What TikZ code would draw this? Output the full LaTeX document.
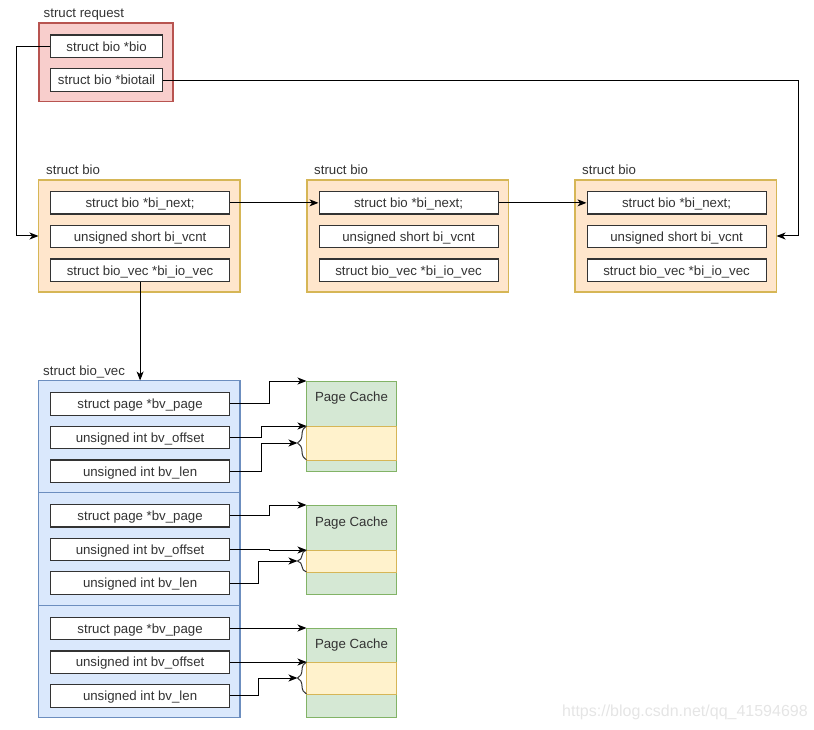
\documentclass[tikz,border=0pt]{standalone}
\usepackage{fontspec}
\setmainfont{Liberation Sans}
\usetikzlibrary{positioning}
\usetikzlibrary{arrows.meta}
\usetikzlibrary{calc}
\usetikzlibrary{decorations.pathreplacing}

\definecolor{reqfill}{HTML}{F8CECC}
\definecolor{reqline}{HTML}{B85450}
\definecolor{biofill}{HTML}{FFE6CC}
\definecolor{bioline}{HTML}{D6B656}
\definecolor{vecfill}{HTML}{DAE8FC}
\definecolor{vecline}{HTML}{6C8EBF}
\definecolor{pagefill}{HTML}{D5E8D4}
\definecolor{pageline}{HTML}{82B366}
\definecolor{datafill}{HTML}{FFF2CC}
\definecolor{dataline}{HTML}{D6B656}
\definecolor{textgray}{HTML}{333333}

\tikzset{
  field/.style={draw=textgray, line width=1.2pt, fill=white, minimum width=179pt, minimum height=22.5pt, inner sep=0pt, text height=9.6pt, text depth=0pt, text=textgray},
  structbox/.style={line width=1.2pt, minimum width=201.5pt, minimum height=112pt, inner sep=0pt, outer sep=0pt, anchor=north west},
  structname/.style={anchor=base west, inner sep=0pt, text=textgray},
  pagetitle/.style={inner sep=0pt, text height=9.6pt, text depth=0pt, text=textgray},
  pagedata/.style={draw=dataline, fill=datafill, line width=1pt, minimum width=90pt, inner sep=0pt, outer sep=0pt},
  pagebrace/.style={decorate, decoration={brace, amplitude=9pt}, line width=1pt, draw=textgray},
  ptr/.style={line width=1pt, -{Stealth[length=9pt, width=7pt, inset=2.5pt]}},
}

\begin{document}
\begin{tikzpicture}[x=1pt, y=-1pt, node distance=10pt, font=\fontsize{13.25}{15}\selectfont]
\useasboundingbox (0,0) rectangle (814,730);

% request
\node[structbox, draw=reqline, fill=reqfill, minimum width=134pt, minimum height=78.5pt] (req) at (39,23) {};
\node[structname] (reqname) at (43.5,17.5) {struct request};
\node[field, minimum width=112pt, below right=11.5pt and 11pt of req.north west] (reqbio) {struct bio *bio};
\node[field, minimum width=112pt, below=of reqbio] (reqtail) {struct bio *biotail};

% bio chain
\node[structbox, draw=bioline, fill=biofill] (bio1) at (38.5,180) {};
\node[structname] (bioname1) at (46,174.5) {struct bio};
\node[field, below right=11pt and 11.5pt of bio1.north west] (next1) {struct bio *bi\_next;};
\node[field, below=of next1] (vcnt1) {unsigned short bi\_vcnt};
\node[field, below=of vcnt1] (vec1) {struct bio\_vec *bi\_io\_vec};

\node[structbox, draw=bioline, fill=biofill] (bio2) at (307,180) {};
\node[structname] (bioname2) at (314,174.5) {struct bio};
\node[field, below right=11pt and 11.5pt of bio2.north west] (next2) {struct bio *bi\_next;};
\node[field, below=of next2] (vcnt2) {unsigned short bi\_vcnt};
\node[field, below=of vcnt2] (vec2) {struct bio\_vec *bi\_io\_vec};

\node[structbox, draw=bioline, fill=biofill] (bio3) at (575,180) {};
\node[structname] (bioname3) at (582,174.5) {struct bio};
\node[field, below right=11pt and 11.5pt of bio3.north west] (next3) {struct bio *bi\_next;};
\node[field, below=of next3] (vcnt3) {unsigned short bi\_vcnt};
\node[field, below=of vcnt3] (vec3) {struct bio\_vec *bi\_io\_vec};

% bio_vec array
\node[structbox, draw=vecline, fill=vecfill, minimum height=112.3pt] (sec1) at (38.5,380.5) {};
\node[structbox, draw=vecline, fill=vecfill, minimum height=112.3pt, below=0pt of sec1] (sec2) {};
\node[structbox, draw=vecline, fill=vecfill, minimum height=112.3pt, below=0pt of sec2] (sec3) {};
\node[structname] (vecname) at (43,375) {struct bio\_vec};

\node[field, below right=11.5pt and 11.5pt of sec1.north west] (page1) {struct page *bv\_page};
\node[field, below=of page1] (off1) {unsigned int bv\_offset};
\node[field, below=of off1] (len1) {unsigned int bv\_len};

\node[field, below right=11pt and 11.5pt of sec2.north west] (page2) {struct page *bv\_page};
\node[field, below=of page2] (off2) {unsigned int bv\_offset};
\node[field, below=of off2] (len2) {unsigned int bv\_len};

\node[field, below right=11.5pt and 11.5pt of sec3.north west] (page3) {struct page *bv\_page};
\node[field, below=of page3] (off3) {unsigned int bv\_offset};
\node[field, below=of off3] (len3) {unsigned int bv\_len};

% page caches
\node[structbox, draw=pageline, fill=pagefill, line width=1pt, minimum width=90pt, minimum height=90pt] (pc1) at (306.5,381) {};
\node[pagetitle] (pcname1) at ($(pc1.north)+(0,16)$) {Page Cache};
\node[pagedata, minimum height=34pt, below=45pt of pc1.north] (data1) {};

\node[structbox, draw=pageline, fill=pagefill, line width=1pt, minimum width=90pt, minimum height=89pt] (pc2) at (306.5,505) {};
\node[pagetitle] (pcname2) at ($(pc2.north)+(0,17)$) {Page Cache};
\node[pagedata, minimum height=22pt, below=45pt of pc2.north] (data2) {};

\node[structbox, draw=pageline, fill=pagefill, line width=1pt, minimum width=90pt, minimum height=89pt] (pc3) at (306.5,628) {};
\node[pagetitle] (pcname3) at ($(pc3.north)+(0,16)$) {Page Cache};
\node[pagedata, minimum height=32pt, below=34pt of pc3.north] (data3) {};

\draw[pagebrace] (data1.south west) -- (data1.north west);
\draw[pagebrace] (data2.south west) -- (data2.north west);
\draw[pagebrace] (data3.south west) -- (data3.north west);
\coordinate (cusp1) at ($(data1.west)+(-9,0)$);
\coordinate (cusp2) at ($(data2.west)+(-9,0)$);
\coordinate (cusp3) at ($(data3.west)+(-9,0)$);

% links
\draw[ptr] (reqbio.west) -- ++(-34,0) |- (bio1.west);
\draw[ptr] (reqtail.east) -| ($(bio3.east)+(22,0)$) -- (bio3.east);
\draw[ptr] (next1.east) -- (next2.west);
\draw[ptr] (next2.east) -- (next3.west);
\draw[ptr] (vec1.south) -- (vec1.south |- sec1.north);

\draw[ptr] (page1.east) -- ++(39,0) |- (pc1.north west);
\draw[ptr] (off1.east) -- ++(31,0) |- (data1.north west);
\draw[ptr] (len1.east) -- ++(31,0) |- (cusp1);

\draw[ptr] (page2.east) -- ++(39,0) |- (pc2.north west);
\draw[ptr] (off2.east) -- ++(39,0) |- (data2.north west);
\draw[ptr] (len2.east) -- ++(28,0) |- (cusp2);

\draw[ptr] (page3.east) -- ++(39,0) |- (pc3.north west);
\draw[ptr] (off3.east) -- ++(39,0) |- (data3.north west);
\draw[ptr] (len3.east) -- ++(28,0) |- (cusp3);

\node[anchor=west, inner sep=0pt, text=black!10, font=\fontsize{16}{18}\selectfont] (watermark) at (562,712) {https://blog.csdn.net/qq\_41594698};
\end{tikzpicture}
\end{document}
